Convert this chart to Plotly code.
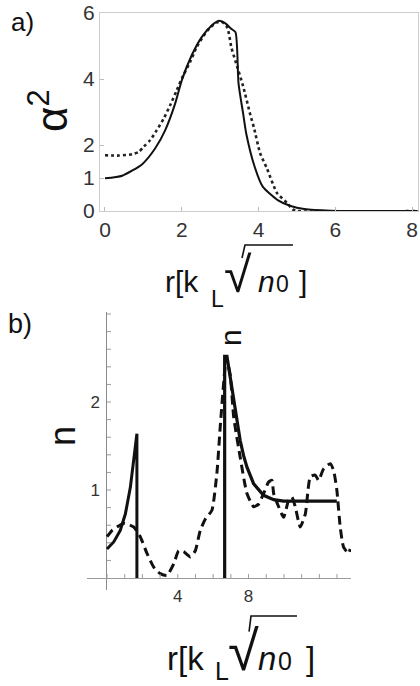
import plotly.graph_objects as go

# ---------------- data: panel a ----------------
a_solid_r = [0, 0.45, 0.97, 1.31, 1.57, 1.83, 2.0, 2.26, 2.52, 2.78, 2.95, 3.12, 3.29, 3.4,
             3.48, 3.6, 3.68, 3.9, 4.11, 4.5, 4.84, 5.19, 5.88, 8.15]
a_solid_q = [0.99, 1.07, 1.42, 1.9, 2.45, 3.26, 3.96, 4.72, 5.27, 5.62, 5.76, 5.7, 5.52, 5.42,
             3.86, 2.95, 2.35, 1.34, 0.74, 0.33, 0.15, 0.06, 0.01, 0.0]
a_dot_r = [0, 0.36, 0.71, 0.88, 1.01, 1.18, 1.35, 1.53, 1.7, 1.87, 2.04, 2.22, 2.39, 2.56,
           2.73, 2.91, 3.03, 3.16, 3.23, 3.29, 3.4, 3.6, 3.79, 3.88, 4.04, 4.22, 4.48, 4.74,
           4.89, 5.0, 8.15]
a_dot_q = [1.69, 1.68, 1.72, 1.79, 1.95, 2.15, 2.45, 2.8, 3.21, 3.66, 4.11, 4.52, 4.97, 5.29,
           5.55, 5.71, 5.74, 5.62, 5.37, 4.97, 4.54, 3.78, 2.9, 2.53, 1.76, 1.29, 0.55, 0.25,
           0.05, 0.0, 0.0]
a_xticks = [0, 2, 4, 6, 8]
a_yticks = [0, 1, 2, 4, 6]

# ---------------- data: panel b ----------------
b_solid1_r = [0, 0.38, 0.75, 1.04, 1.32, 1.51, 1.69, 1.69]
b_solid1_n = [0.33, 0.41, 0.54, 0.73, 1.03, 1.34, 1.64, 0.0]
b_solid2_r = [6.65, 6.65, 6.78, 6.95, 7.16, 7.35, 7.53, 7.72, 7.91, 8.29, 8.85, 9.42, 9.98, 12.99]
b_solid2_n = [0.0, 2.52, 2.52, 2.3, 2.02, 1.75, 1.56, 1.39, 1.26, 1.07, 0.94, 0.89, 0.875, 0.875]
b_dash_r = [0, 0.28, 0.94, 1.51, 1.88, 2.26, 2.64, 3.01, 3.39, 3.77, 4.05, 4.33, 4.71, 4.99,
            5.27, 5.56, 5.93, 6.21, 6.4, 6.59, 6.74, 6.97, 7.16, 7.53, 7.91, 8.29, 8.57, 8.85,
            9.13, 9.32, 9.42, 9.7, 9.98, 10.26, 10.45, 10.64, 10.92, 11.21, 11.49, 11.77,
            11.96, 12.24, 12.62, 12.81, 12.99, 13.18, 13.37, 13.65, 13.75]
b_dash_n = [0.47, 0.54, 0.62, 0.58, 0.47, 0.28, 0.125, 0.05, 0.03, 0.16, 0.31, 0.30, 0.24, 0.31,
            0.54, 0.67, 0.77, 1.19, 1.72, 2.21, 2.5, 2.3, 1.83, 1.37, 0.96, 0.81, 0.84, 0.96,
            1.09, 1.11, 0.96, 0.81, 0.69, 0.88, 0.92, 0.81, 0.58, 0.73, 1.15, 1.17,
            1.11, 1.24, 1.3, 1.22, 1.0, 0.58, 0.35, 0.28, 0.33]
b_xtick_labels = [4, 8]
b_ytick_labels = [1, 2]
b_xminor = list(range(0, 14))
b_yminor = [round(0.2 * i, 1) for i in range(1, 16)]

W, H = 420, 686
FONT = "Liberation Sans, Arial, sans-serif"
INK = "#111111"
TICKC = "#333333"


def px(x):
    return x / W


def py(y):
    return 1 - y / H


fig = go.Figure()

# panel a traces
fig.add_trace(go.Scatter(x=a_dot_r, y=a_dot_q, mode="lines", line=dict(color="#222", width=2.6, dash="dot", shape="spline", smoothing=0.6),
                         xaxis="x", yaxis="y", showlegend=False, cliponaxis=False))
fig.add_trace(go.Scatter(x=a_solid_r, y=a_solid_q, mode="lines", line=dict(color=INK, width=2, shape="spline", smoothing=0.6),
                         xaxis="x", yaxis="y", showlegend=False, cliponaxis=False))

# panel b traces
fig.add_trace(go.Scatter(x=b_dash_r, y=b_dash_n, mode="lines", line=dict(color=INK, width=3, dash="9px,5px", shape="spline", smoothing=0.5),
                         xaxis="x2", yaxis="y2", showlegend=False))
fig.add_trace(go.Scatter(x=b_solid1_r, y=b_solid1_n, mode="lines", line=dict(color=INK, width=3),
                         xaxis="x2", yaxis="y2", showlegend=False))
fig.add_trace(go.Scatter(x=b_solid2_r, y=b_solid2_n, mode="lines", line=dict(color=INK, width=3.2),
                         xaxis="x2", yaxis="y2", showlegend=False))

tickfont_a = dict(family=FONT, size=21, color=TICKC)
tickfont_b = dict(family=FONT, size=17, color=TICKC)

fig.update_layout(
    xaxis=dict(domain=[px(100), px(418)], range=[-0.13, 8.156], tickvals=a_xticks,
               ticks="inside", ticklen=4, tickcolor="#bbbbbb", tickfont=tickfont_a,
               showline=True, linecolor="#cccccc", linewidth=1, mirror=True,
               showgrid=False, zeroline=False, anchor="y", automargin=False),
    yaxis=dict(domain=[py(211), py(13)], range=[0, 6], tickvals=a_yticks,
               ticks="inside", ticklen=4, tickcolor="#bbbbbb", tickfont=tickfont_a,
               showline=True, linecolor="#cccccc", linewidth=1, mirror=True,
               showgrid=False, zeroline=False, anchor="x", automargin=False),
    xaxis2=dict(domain=[px(87), px(351)], range=[-1.13, 13.79], tickvals=b_xtick_labels,
                ticks="", tickfont=tickfont_b, showline=False, showgrid=False,
                ticklabelstandoff=-6,
                zeroline=True, zerolinecolor="#8a8a8a", zerolinewidth=1, anchor="y2",
                automargin=False),
    yaxis2=dict(domain=[py(590), py(312)], range=[-0.136, 3.023], tickvals=b_ytick_labels,
                ticks="", tickfont=tickfont_b, showline=False, showgrid=False,
                ticklabelstandoff=-14, automargin=False,
                zeroline=True, zerolinecolor="#9a9a9a", zerolinewidth=1, anchor="x2"),
    width=W, height=H, margin=dict(l=0, r=0, t=0, b=0, autoexpand=False),
    paper_bgcolor="white", plot_bgcolor="white",
)

shapes = []
for t in b_xminor:
    shapes.append(dict(type="line", xref="x2", yref="y2", ysizemode="pixel", yanchor=0,
                       x0=t, x1=t, y0=0, y1=4, line=dict(color="#9a9a9a", width=1)))
for t in b_yminor:
    shapes.append(dict(type="line", xref="x2", yref="y2", xsizemode="pixel", xanchor=0,
                       x0=0, x1=4, y0=t, y1=t, line=dict(color="#9a9a9a", width=1)))

annotations = []


def ann(text, x, y, size, xanchor="left", yanchor="middle", angle=0, italic=False, color=INK):
    if italic:
        text = "<i>" + text + "</i>"
    annotations.append(dict(text=text, x=px(x), y=py(y), xref="paper", yref="paper",
                            xanchor=xanchor, yanchor=yanchor, showarrow=False, textangle=angle,
                            font=dict(family=FONT, size=size, color=color)))


def xtitle(xl, base, big, small, pos, lsub, rad_size, rad_left, over_y, over_x):
    ann("r[k", xl, base - 0.3465 * big, big)
    ann("L", pos[0], base + lsub - 0.3465 * small, small)
    ann("√", rad_left, base - 0.3465 * rad_size, rad_size)
    ann("n", pos[1], base - 0.3465 * big, big, italic=True)
    ann("0", pos[2], base - 0.3465 * small, small)
    ann("]", pos[3], base - 0.3465 * big, big)
    # long stroke of the radical joined to its vinculum
    gx = rad_left + 0.07 * rad_size + 0.36 * rad_size
    gy = base - 0.72 * rad_size
    shapes.append(dict(type="path", xref="paper", yref="paper",
                       path="M {:.4f},{:.4f} L {:.4f},{:.4f} L {:.4f},{:.4f}".format(
                           px(gx - 1), py(gy + 2), px(over_x[0]), py(over_y), px(over_x[1]), py(over_y)),
                       line=dict(color=INK, width=1.6)))


xtitle(163, 292, 30, 23, [209, 256, 274, 297], 15, 50, 221.5, 245, (245, 293))
xtitle(165, 670, 33, 25, [213, 256, 276, 304], 10, 56, 226, 616, (251, 297))

# panel labels
ann("a)", 9, 22, 26, color="#111")
ann("b)", 6, 324, 27, color="#111")
# y titles
ann("α<sup>2</sup>", 48, 111, 44, xanchor="center", angle=-90, color="#111")
ann("n", 62, 436, 36, xanchor="center", angle=-90, color="#111")
ann("n", 230, 338, 30, xanchor="center", angle=-90, color="#111")

fig.update_layout(shapes=shapes, annotations=annotations)
fig.write_html("out.html", config={"displayModeBar": False},
               post_script="document.body.style.margin='0';document.body.style.padding='0';")
